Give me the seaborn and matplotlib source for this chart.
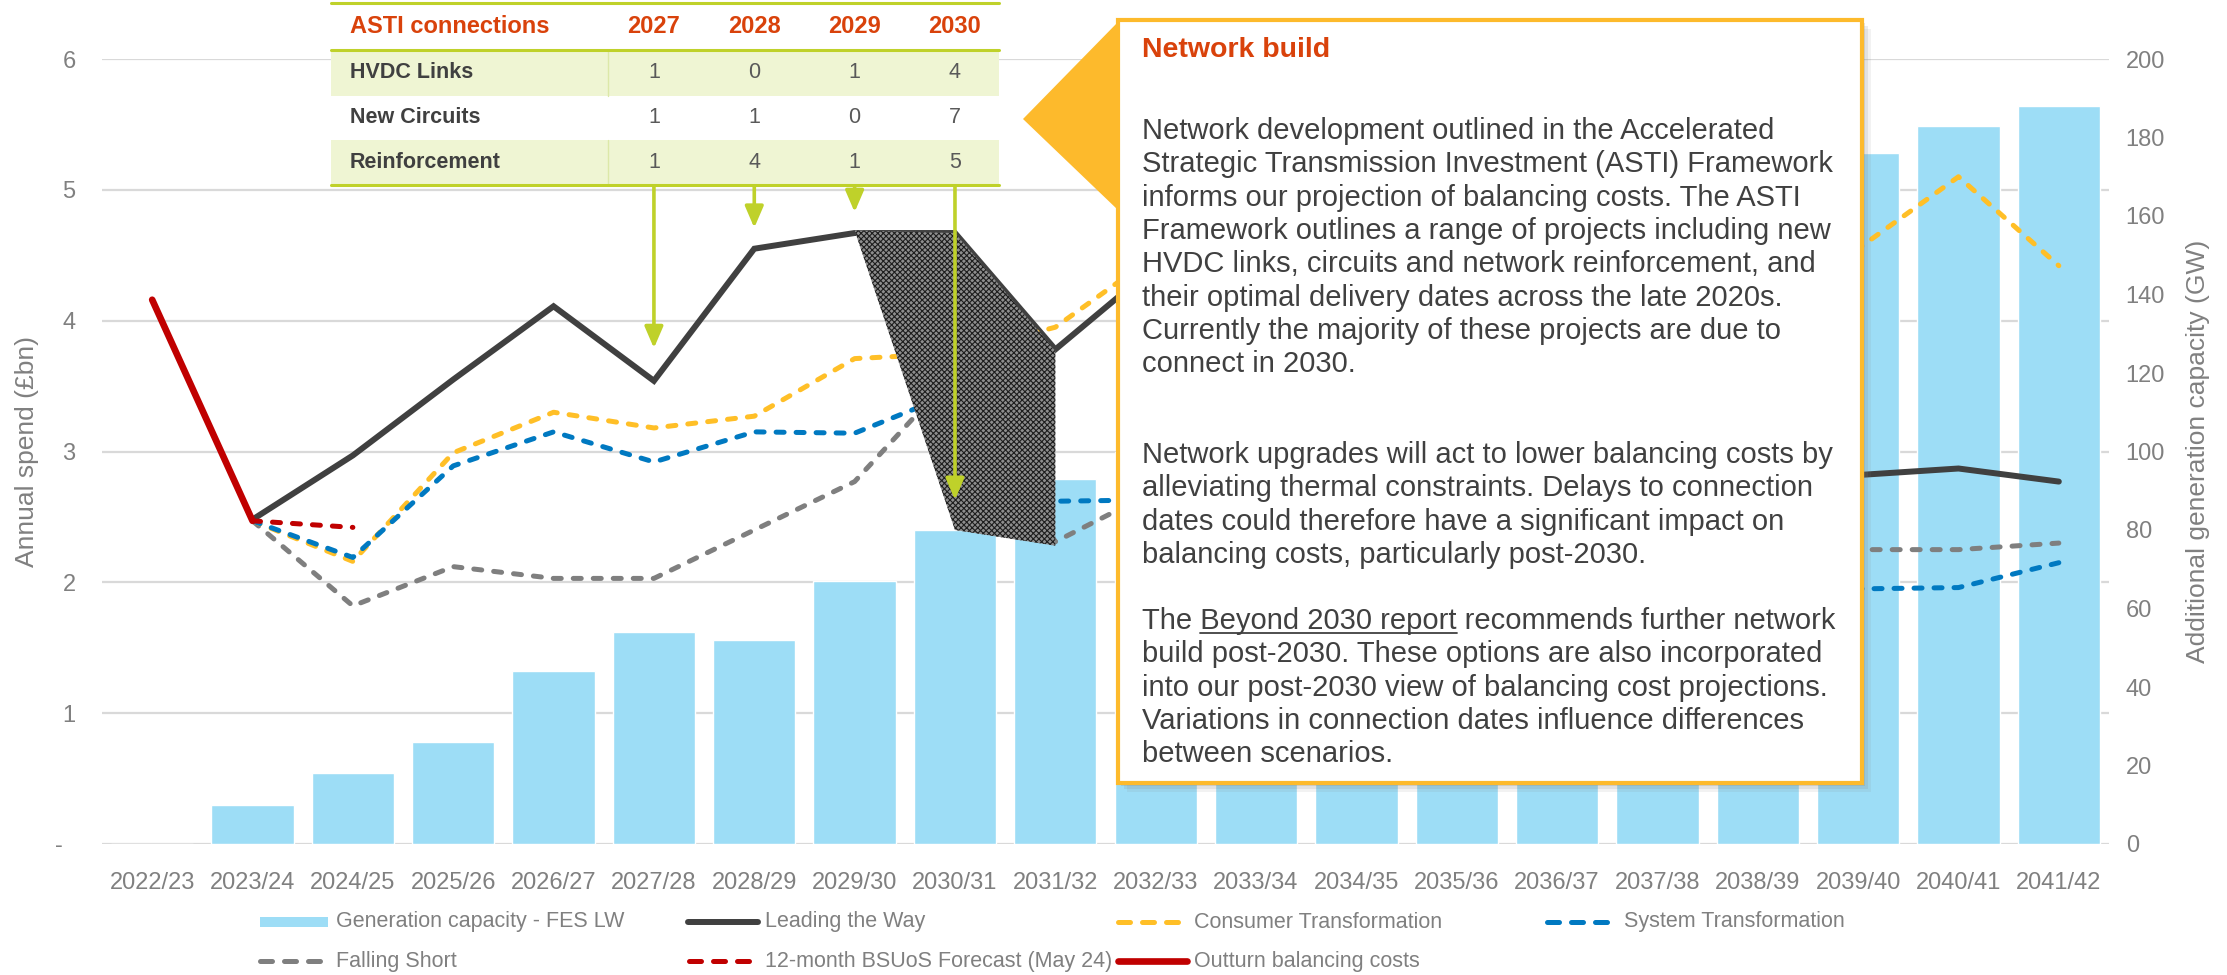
import numpy as np
import pandas as pd
import seaborn as sns
import matplotlib.pyplot as plt
from matplotlib.patches import Rectangle, Polygon, FancyArrowPatch
from matplotlib.lines import Line2D

# ---- data ------------------------------------------------------------
years = ["2022/23", "2023/24", "2024/25", "2025/26", "2026/27", "2027/28",
         "2028/29", "2029/30", "2030/31", "2031/32", "2032/33", "2033/34",
         "2034/35", "2035/36", "2036/37", "2037/38", "2038/39", "2039/40",
         "2040/41", "2041/42"]
capacity_gw = [0, 10, 18, 26, 44, 54, 52, 67, 80, 93, 100, 112, 124, 136,
               147, 157, 166, 176, 183, 188]
nan = np.nan
leading_the_way = [nan, 2.48, 2.97, 3.55, 4.11, 3.54, 4.55, 4.67, 4.67, 3.78,
                   4.42, 4.20, 3.95, 3.60, 3.30, 3.05, 2.90, 2.82, 2.87, 2.77]
consumer_transf = [nan, 2.47, 2.16, 2.99, 3.30, 3.18, 3.27, 3.71, 3.75, 3.95,
                   4.50, 4.80, 4.85, 4.75, 4.65, 4.55, 4.50, 4.55, 5.10, 4.42]
system_transf = [nan, 2.47, 2.19, 2.89, 3.15, 2.92, 3.15, 3.14, 3.45, 2.62,
                 2.63, 2.60, 2.50, 2.40, 2.30, 2.15, 2.00, 1.95, 1.96, 2.15]
falling_short = [nan, 2.47, 1.82, 2.12, 2.03, 2.03, 2.40, 2.77, 3.60, 2.31,
                 2.70, 2.65, 2.55, 2.45, 2.35, 2.30, 2.25, 2.25, 2.25, 2.30]
bsuos_forecast = [nan, 2.47, 2.42] + [nan] * 17
outturn = [4.16, 2.47] + [nan] * 18

asti_years = ["2027", "2028", "2029", "2030"]
asti_rows = ["HVDC Links", "New Circuits", "Reinforcement"]
hvdc_links = [1, 0, 1, 4]
new_circuits = [1, 1, 0, 7]
reinforcement = [1, 4, 1, 5]
arrow_tips = [3.79, 4.71, 4.83, 2.63]          # where the table arrows end
drop_shape = [(7, 4.69), (8, 4.67), (9, 3.77), (9, 2.28), (8, 2.40)]

# ---- style -----------------------------------------------------------
W, H = 2227, 975
BAR = "#9DDDF6"
DARK = "#404040"
GOLD = "#FFBF27"
BLUE = "#0079C1"
GREY = "#7F7F7F"
RED = "#C00000"
ORANGE = "#D9420B"
OLIVE = "#BFD12A"
BOX = "#FDBA2C"
TXT = "#808080"
DASH = (0, (1.6, 2.4))
LDASH = (0, (2.4, 2.4))

sns.set_theme(style="white")
plt.rcParams["font.family"] = ["Liberation Sans", "DejaVu Sans"]
plt.rcParams["hatch.linewidth"] = 0.8


def fx(x):
    return x / W


def fy(y):
    return 1 - y / H


fig = plt.figure(figsize=(W / 100, H / 100), dpi=100)
ax2 = fig.add_axes([fx(102), fy(844), (2109 - 102) / W, (844 - 59) / H])
ax = ax2.twinx()
ax.set_zorder(ax2.get_zorder() + 1)
ax.patch.set_visible(False)
ax2.yaxis.tick_right()
ax.yaxis.tick_left()

# bars on the right axis
sns.barplot(x=years, y=capacity_gw, ax=ax2, color=BAR, saturation=1,
            width=0.82, zorder=2)
ax2.set_ylim(0, 200)
ax2.set_yticks(range(0, 201, 20))

# gridlines (left axis scale), behind the bars
for v in range(7):
    ax2.add_artist(Line2D([0, 1], [v, v], transform=ax.get_yaxis_transform(),
                          color="#D9D9D9", lw=1.6, zorder=1))

# lines on the left axis
idx = np.arange(len(years))
series = [
    (leading_the_way, DARK, "-", 4.3, 3),
    (falling_short, GREY, DASH, 3.6, 4),
    (consumer_transf, GOLD, DASH, 3.6, 4),
    (system_transf, BLUE, DASH, 3.6, 4),
    (bsuos_forecast, RED, DASH, 3.6, 4),
    (outturn, RED, "-", 4.8, 4),
]
for vals, col, ls, lw, z in series:
    d = pd.DataFrame({"x": idx, "y": vals}).dropna()
    sns.lineplot(data=d, x="x", y="y", ax=ax, color=col, lw=lw, linestyle=ls,
                 dash_capstyle="round", solid_capstyle="round",
                 solid_joinstyle="miter", zorder=z)

ax.set_ylim(0, 6)
ax.set_yticks(range(7))
ax.set_yticklabels(["-  "] + [str(v) for v in range(1, 7)])
ax.set_xlim(-0.5, 19.5)
ax2.set_xlim(-0.5, 19.5)
ax2.set_xticks(idx)
ax2.set_xticklabels(years)
for a in (ax, ax2):
    a.set_xlabel("")
    a.set_ylabel("")
    for s in a.spines.values():
        s.set_visible(False)
ax.tick_params(axis="y", length=0, pad=19, labelsize=17, labelcolor=TXT)
ax2.tick_params(axis="y", length=0, pad=12, labelsize=17, labelcolor=TXT)
ax2.tick_params(axis="x", length=0, pad=20, labelsize=17, labelcolor=TXT)

fig.text(fx(27), 0.5 * (fy(59) + fy(844)), "Annual spend (£bn)", rotation=90,
         ha="center", va="center", fontsize=19, color=TXT)
fig.text(fx(2198), 0.5 * (fy(59) + fy(844)),
         "Additional generation capacity (GW)", rotation=90,
         ha="center", va="center", fontsize=19, color=TXT)

# hatched drop shape
ax.add_patch(Polygon(drop_shape, closed=True, facecolor="#8e8e8e",
                     edgecolor="#1e1e1e", hatch="xxxxxx", lw=0, zorder=6))

# ---- ASTI table ------------------------------------------------------
tl, tr, tdiv = 1.78, 8.44, 4.54
rows_y = [6.43, 6.07, 5.72, 5.38, 5.04]
kw = dict(clip_on=False, zorder=8)
for i in (0, 2):
    ax.add_patch(Rectangle((tl, rows_y[i + 2]), tr - tl,
                           rows_y[i + 1] - rows_y[i + 2],
                           facecolor="#EFF5D3", lw=0, **kw))
    ax.add_line(Line2D([tdiv, tdiv], [rows_y[i + 2], rows_y[i + 1]],
                       color="#DCE8A8", lw=1, **kw))
for yv in (rows_y[0], rows_y[1], rows_y[4]):
    ax.add_line(Line2D([tl, tr], [yv, yv], color=OLIVE, lw=2.2, **kw))

ax.text(1.97, (rows_y[0] + rows_y[1]) / 2, "ASTI connections", ha="left",
        va="center", fontsize=17, fontweight="bold", color=ORANGE, **kw)
for j, yr in enumerate(asti_years):
    ax.text(5 + j, (rows_y[0] + rows_y[1]) / 2, yr, ha="center", va="center",
            fontsize=17, fontweight="bold", color=ORANGE, **kw)
for i, (lab, vals) in enumerate(zip(asti_rows,
                                    [hvdc_links, new_circuits, reinforcement])):
    yc = (rows_y[i + 1] + rows_y[i + 2]) / 2
    ax.text(1.97, yc, lab, ha="left", va="center", fontsize=15.5,
            fontweight="bold", color=DARK, **kw)
    for j, v in enumerate(vals):
        ax.text(5 + j, yc, str(v), ha="center", va="center", fontsize=15.5,
                color="#595959", **kw)

for j, tip in enumerate(arrow_tips):
    ax.add_patch(FancyArrowPatch((5 + j, rows_y[4]), (5 + j, tip),
                                 arrowstyle="-|>,head_length=0.65,head_width=0.28",
                                 mutation_scale=20, color=OLIVE, lw=2.6,
                                 shrinkA=0, shrinkB=0, zorder=7))

# ---- callout box -----------------------------------------------------
for off, al in ((9, 0.10), (6, 0.15), (3, 0.2)):
    fig.add_artist(Rectangle((fx(1118 + off), fy(783 + off)), (1862 - 1118) / W,
                             (783 - 20) / H, transform=fig.transFigure,
                             facecolor="#808080", alpha=al, lw=0, zorder=18))
fig.add_artist(Polygon([(fx(1023), fy(119)), (fx(1118), fy(22)),
                        (fx(1118), fy(210))], closed=True,
                       transform=fig.transFigure, facecolor=BOX, lw=0,
                       zorder=19))
fig.add_artist(Rectangle((fx(1118), fy(783)), (1862 - 1118) / W,
                         (783 - 20) / H, transform=fig.transFigure,
                         facecolor="white", edgecolor=BOX, lw=3, zorder=20))

fig.text(fx(1142), fy(57), "Network build", ha="left", va="baseline",
         fontsize=20.5, fontweight="bold", color=ORANGE, zorder=21)
para1 = ["Network development outlined in the Accelerated",
         "Strategic Transmission Investment (ASTI) Framework",
         "informs our projection of balancing costs. The ASTI",
         "Framework outlines a range of projects including new",
         "HVDC links, circuits and network reinforcement, and",
         "their optimal delivery dates across the late 2020s.",
         "Currently the majority of these projects are due to",
         "connect in 2030."]
para2 = ["Network upgrades will act to lower balancing costs by",
         "alleviating thermal constraints. Delays to connection",
         "dates could therefore have a significant impact on",
         "balancing costs, particularly post-2030."]
para3 = ["The Beyond 2030 report recommends further network",
         "build post-2030. These options are also incorporated",
         "into our post-2030 view of balancing cost projections.",
         "Variations in connection dates influence differences",
         "between scenarios."]
BFS = 21
for start, para in ((139, para1), (463, para2), (629, para3)):
    for i, line in enumerate(para):
        fig.text(fx(1142), fy(start + 33.3 * i), line, ha="left",
                 va="baseline", fontsize=BFS, color=DARK, zorder=21)

# underline "Beyond 2030 report"
renderer = fig.canvas.get_renderer()


def text_width(s):
    t = fig.text(0, 0, s, fontsize=BFS)
    w = t.get_window_extent(renderer).width
    t.remove()
    return w


w_all = text_width("The Beyond 2030 report")
w_link = text_width("Beyond 2030 report")
x0 = 1142 + w_all - w_link
x1 = 1142 + w_all
fig.add_artist(Line2D([fx(x0), fx(x1)], [fy(629 + 4), fy(629 + 4)],
                      transform=fig.transFigure, color=DARK, lw=1.3,
                      zorder=21))

# ---- legend (drawn by hand to follow the original layout) -----------
LFS = 15.5
row1, row2 = 922, 961
fig.add_artist(Rectangle((fx(260), fy(row1 + 5)), 68 / W, 10.5 / H,
                         transform=fig.transFigure, facecolor=BAR, lw=0))
legend_lines = [
    (688, 758, row1, DARK, "-", 4.3),
    (1118, 1182, row1, GOLD, LDASH, 3.6),
    (1547, 1612, row1, BLUE, LDASH, 3.6),
    (260, 325, row2, GREY, LDASH, 3.6),
    (689, 754, row2, RED, LDASH, 3.6),
    (1118, 1187, row2, RED, "-", 4.8),
]
for xa, xb, yy, col, ls, lw in legend_lines:
    fig.add_artist(Line2D([fx(xa), fx(xb)], [fy(yy), fy(yy)],
                          transform=fig.transFigure, color=col, lw=lw,
                          linestyle=ls, dash_capstyle="round",
                          solid_capstyle="round"))
legend_text = [
    (336, row1, "Generation capacity - FES LW"),
    (765, row1, "Leading the Way"),
    (1194, row1, "Consumer Transformation"),
    (1624, row1, "System Transformation"),
    (336, row2, "Falling Short"),
    (765, row2, "12-month BSUoS Forecast (May 24)"),
    (1194, row2, "Outturn balancing costs"),
]
for xx, yy, s in legend_text:
    fig.text(fx(xx), fy(yy), s, ha="left", va="center", fontsize=LFS,
             color=TXT)

fig.savefig("out.png", dpi=100)
